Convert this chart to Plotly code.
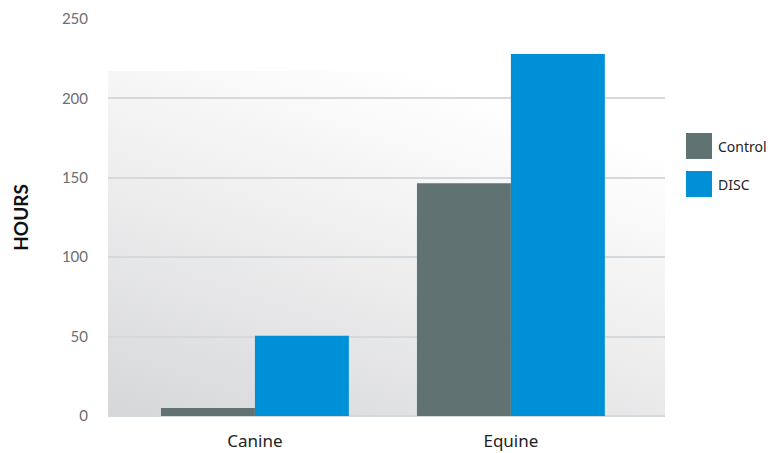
import base64
import plotly.graph_objects as go

categories = ["Canine", "Equine"]
control = [5, 146.5]
disc = [50.5, 228]
series_names = ["Control", "DISC"]
y_ticks = [0, 50, 100, 150, 200, 250]

col_control = "#617273"
col_disc = "#0090d7"

svg = (
    '<svg xmlns="http://www.w3.org/2000/svg" width="560" height="345" viewBox="0 0 560 345" preserveAspectRatio="none">'
    '<defs><linearGradient id="g" x1="0" y1="1" x2="0.55" y2="0">'
    '<stop offset="0" stop-color="#d6d7d9"/>'
    '<stop offset="0.55" stop-color="#eeeeef"/>'
    '<stop offset="1" stop-color="#ffffff"/>'
    '</linearGradient></defs>'
    '<rect x="0" y="0" width="560" height="345" fill="url(#g)"/></svg>'
)
src = "data:image/svg+xml;base64," + base64.b64encode(svg.encode()).decode()

x_pos = list(range(len(categories)))

fig = go.Figure()
fig.add_trace(go.Bar(x=x_pos, y=control, name=series_names[0], marker_color=col_control,
                     marker_line_width=0, showlegend=False))
fig.add_trace(go.Bar(x=x_pos, y=disc, name=series_names[1], marker_color=col_disc,
                     marker_line_width=0, showlegend=False))

W, H = 779, 453
ml, mr, mt, mb = 108, 114, 19, 37
pw = W - ml - mr
ph = H - mt - mb

grad_top = (416 - 71) / ph

fig.update_layout(
    width=W, height=H,
    autosize=False,
    margin=dict(l=ml, r=mr, t=mt, b=mb, pad=0, autoexpand=False),
    paper_bgcolor="white",
    plot_bgcolor="rgba(0,0,0,0)",
    barmode="group",
    bargap=0.266,
    bargroupgap=0,
    font=dict(family="Lato, Noto Sans, sans-serif", color="#666"),
    images=[dict(source=src, xref="paper", yref="paper", x=0, y=grad_top,
                 sizex=1, sizey=grad_top, sizing="stretch", xanchor="left",
                 yanchor="top", layer="below")],
)

fig.update_xaxes(
    range=[-0.574, 1.602],
    automargin=False,
    tickmode="array", tickvals=x_pos, ticktext=categories,
    showgrid=False, zeroline=False, showline=False, ticks="",
    tickfont=dict(size=17, color="#222", family="Noto Sans, sans-serif"),
    ticklabelstandoff=13,
)
fig.update_yaxes(
    range=[0, 250],
    automargin=False,
    tickmode="array", tickvals=y_ticks,
    showgrid=True, gridcolor="#d3d9dc", gridwidth=1.5,
    zeroline=True, zerolinecolor="#d3d9dc", zerolinewidth=1.5,
    showline=False, ticks="",
    tickfont=dict(size=15, color="#6e6e6e"),
    ticklabelstandoff=19,
    title=dict(text="<b>HOURS</b>", font=dict(size=19, color="#111"), standoff=28),
)

# Custom legend with large swatches
legend_items = [(series_names[0], col_control, 133), (series_names[1], col_disc, 171)]
for name, col, ytop in legend_items:
    x0 = (686 - ml) / pw
    x1 = (712 - ml) / pw
    y0 = (416 - ytop) / ph
    y1 = (416 - ytop - 26) / ph
    fig.add_shape(type="rect", xref="paper", yref="paper", x0=x0, x1=x1, y0=y1, y1=y0,
                  fillcolor=col, line_width=0)
    fig.add_annotation(xref="paper", yref="paper", x=(716 - ml) / pw, y=(416 - ytop - 13) / ph,
                       text=name, showarrow=False, xanchor="left", yanchor="middle",
                       width=62, align="left",
                       font=dict(size=14, color="#222", family="Noto Sans, sans-serif"))

fig.write_html("out.html", config={"displayModeBar": False},
               post_script="document.body.style.margin='0';document.body.style.overflow='hidden';")
